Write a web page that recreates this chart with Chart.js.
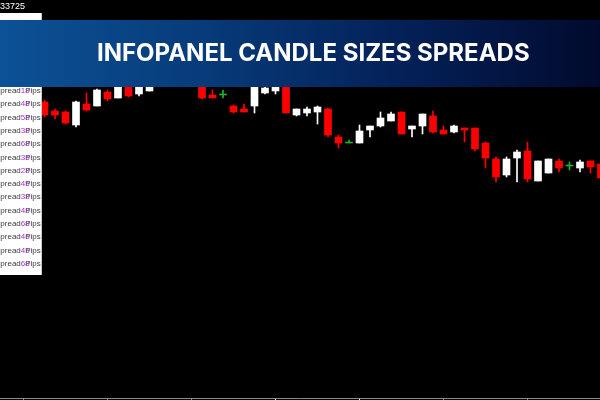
<!DOCTYPE html>
<html>
<head>
<meta charset="utf-8">
<script src="https://cdn.jsdelivr.net/npm/chart.js@4.4.0/dist/chart.umd.min.js"></script>
<style>
  html, body { margin: 0; padding: 0; background: #000; }
  #marco { position: relative; width: 600px; height: 400px; overflow: hidden; background: #000; }
  #grafico { position: absolute; left: 0; top: 0; }
  #precio { position: absolute; left: 0; top: 1px; color: #fff; font: 9px "Liberation Sans", Arial, sans-serif; }
  #panel { position: absolute; left: 0; top: 13px; width: 41px; height: 262px; background: #fff; border-right: 1px solid #c8c8c8; overflow: hidden; }
  .fila { position: absolute; left: -5px; white-space: nowrap; font: 8px/10px "Liberation Sans", Arial, sans-serif; color: #3c3c3c; }
  .v { color: #a038c8; }
  .sob { position: relative; }
  .sob .v { position: absolute; left: 0; top: 0; }
  #banner { position: absolute; left: 0; top: 20px; width: 600px; height: 67px;
            background: linear-gradient(90deg, #0c5296 0%, #073a78 35%, #04225a 65%, #010a2e 100%); }
  #banner span { position: absolute; left: 97px; top: -1px; color: #fff;
                 font: 700 24px/67px Inter, "Open Sans", sans-serif; white-space: nowrap; }
</style>
</head>
<body>
<div id="marco">
  <canvas id="grafico" width="600" height="400"></canvas>
  <div id="precio">33725</div>
  <div id="panel"></div>
  <div id="banner"><span>INFOPANEL CANDLE SIZES SPREADS</span></div>
</div>
<script>
// precios de cada vela (open, high, low, close)
const apertura = [1.33490, 1.33445, 1.33440, 1.33375, 1.33480, 1.33470, 1.33540, 1.33510, 1.33575, 1.33530,
                  1.33545, 1.33610, 1.33680, 1.33725, 1.33670, 1.33690, 1.33525, 1.33525, 1.33470, 1.33455,
                  1.33470, 1.33535, 1.33545, 1.33590, 1.33425, 1.33435, 1.33440, 1.33455, 1.33315, 1.33285,
                  1.33285, 1.33350, 1.33370, 1.33395, 1.33440, 1.33355, 1.33370, 1.33420, 1.33350, 1.33340,
                  1.33360, 1.33360, 1.33285, 1.33205, 1.33125, 1.33210, 1.33245, 1.33095, 1.33135, 1.33195,
                  1.33170, 1.33160, 1.33195, 1.33180];
const maximo = [1.33500, 1.33455, 1.33445, 1.33495, 1.33535, 1.33555, 1.33550, 1.33590, 1.33585, 1.33600,
                1.33630, 1.33700, 1.33750, 1.33740, 1.33710, 1.33710, 1.33550, 1.33550, 1.33475, 1.33480,
                1.33600, 1.33570, 1.33580, 1.33600, 1.33455, 1.33465, 1.33470, 1.33460, 1.33325, 1.33300,
                1.33375, 1.33370, 1.33440, 1.33440, 1.33440, 1.33370, 1.33430, 1.33445, 1.33370, 1.33375,
                1.33360, 1.33360, 1.33290, 1.33215, 1.33215, 1.33250, 1.33290, 1.33195, 1.33205, 1.33205,
                1.33190, 1.33200, 1.33195, 1.33190];
const minimo = [1.33415, 1.33405, 1.33380, 1.33365, 1.33445, 1.33470, 1.33495, 1.33510, 1.33515, 1.33520,
                1.33545, 1.33590, 1.33660, 1.33650, 1.33640, 1.33505, 1.33510, 1.33510, 1.33435, 1.33440,
                1.33435, 1.33530, 1.33530, 1.33435, 1.33420, 1.33420, 1.33380, 1.33315, 1.33260, 1.33285,
                1.33285, 1.33315, 1.33365, 1.33395, 1.33330, 1.33315, 1.33330, 1.33335, 1.33330, 1.33335,
                1.33290, 1.33245, 1.33160, 1.33090, 1.33115, 1.33090, 1.33090, 1.33095, 1.33135, 1.33140,
                1.33150, 1.33140, 1.33135, 1.33100];
const cierre = [1.33425, 1.33425, 1.33385, 1.33490, 1.33450, 1.33550, 1.33505, 1.33580, 1.33520, 1.33590,
                1.33620, 1.33680, 1.33725, 1.33670, 1.33690, 1.33510, 1.33510, 1.33525, 1.33440, 1.33440,
                1.33580, 1.33560, 1.33570, 1.33435, 1.33455, 1.33455, 1.33465, 1.33325, 1.33285, 1.33285,
                1.33345, 1.33370, 1.33410, 1.33430, 1.33330, 1.33370, 1.33430, 1.33340, 1.33330, 1.33370,
                1.33350, 1.33255, 1.33210, 1.33115, 1.33205, 1.33240, 1.33105, 1.33195, 1.33205, 1.33160,
                1.33170, 1.33190, 1.33165, 1.33110];
// marcas del eje x (cada 8 velas)
const marcas = [2, 10, 18, 26, 34, 42, 50];
// spreads del panel izquierdo
const spreads = ["1.8", "4.8", "5.8", "3.8", "6.8", "3.5", "2.8", "4.5", "3.8", "4.8", "6.8", "4.5", "4.5", "6.8"];

//armo el panel de texto
const panel = document.getElementById("panel");
spreads.forEach((s, i) => {
    const fila = document.createElement("div");
    fila.className = "fila";
    fila.style.top = (73 + i * 13.3) + "px";
    fila.innerHTML = 'Spread<span class="v">' + s[0] + '</span><span class="sob">P<span class="v">' + s[2] + '</span></span>ips';
    panel.appendChild(fila);
});

//colores: blanca sube, roja baja, verde doji
const colores = apertura.map((o, i) => (cierre[i] > o ? "#ffffff" : cierre[i] < o ? "#ff0000" : "#22b02a"));

new Chart(document.getElementById("grafico"), {
    type: "bar",
    data: {
        datasets: [
            { label: "cuerpo", data: apertura.map((o, i) => ({ x: i, y: [o, cierre[i]] })), backgroundColor: colores, barThickness: 7, minBarLength: 1, grouped: false, order: 0 },
            { label: "mecha", data: maximo.map((h, i) => ({ x: i, y: [minimo[i], h] })), backgroundColor: colores, barThickness: 1, grouped: false, order: 1 },
        ],
    },
    options: {
        responsive: false,
        animation: false,
        layout: { padding: 0 },
        plugins: { legend: { display: false }, tooltip: { enabled: false } },
        scales: {
            x: {
                type: "linear",
                min: -4.238,
                max: 52.905,
                offset: false,
                afterBuildTicks: (eje) => { eje.ticks = marcas.map((v) => ({ value: v })); },
                ticks: { display: false },
                grid: { drawOnChartArea: false, tickLength: 2, color: (c) => (c.tick && (c.tick.value === 26 || c.tick.value === 34) ? "#ffffff" : "#8a8a8a") },
                border: { color: "#8a8a8a" },
            },
            y: { display: false, min: 1.3201, max: 1.34 },
        },
    },
});
</script>
</body>
</html>
